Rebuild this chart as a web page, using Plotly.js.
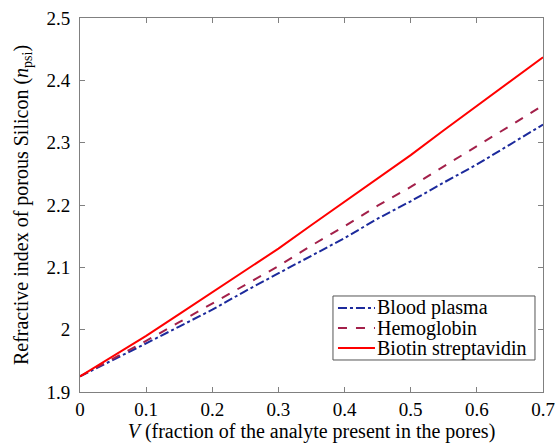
<!DOCTYPE html>
<html><head><meta charset="utf-8">
<script src="https://cdn.plot.ly/plotly-3.0.1.min.js"></script>
<style>body{margin:0;background:#fff}#chart{width:555px;height:445px}</style>
</head><body><div id="chart"></div>
<script>
const V = [0, 0.05, 0.1, 0.15, 0.2, 0.25, 0.3, 0.35, 0.4, 0.45, 0.5, 0.55, 0.6, 0.65, 0.7];
const bloodPlasma = [1.925, 1.951, 1.978, 2.005, 2.032, 2.062, 2.090, 2.119, 2.147, 2.178, 2.206, 2.236, 2.265, 2.297, 2.329];
const hemoglobin  = [1.925, 1.953, 1.982, 2.012, 2.042, 2.072, 2.102, 2.135, 2.166, 2.199, 2.229, 2.262, 2.294, 2.327, 2.360];
const biotinStrep = [1.925, 1.957, 1.990, 2.025, 2.060, 2.095, 2.130, 2.168, 2.205, 2.243, 2.280, 2.320, 2.359, 2.398, 2.437];
const names = ["Blood plasma", "Hemoglobin", "Biotin streptavidin"];
const xTicks = [0, 0.1, 0.2, 0.3, 0.4, 0.5, 0.6, 0.7];
const yTicks = [1.9, 2, 2.1, 2.2, 2.3, 2.4, 2.5];

const fam = "Liberation Serif";
const tickFont = {family: fam, color: "#000", size: 19};
const titleFont = {family: fam, color: "#000", size: 20};
const styles = [
  {color: "#1c2a9c", width: 2, dash: "dashdot"},
  {color: "#a3204a", width: 2, dash: "dash"},
  {color: "#ff0000", width: 2, dash: "solid"}
];
const series = [bloodPlasma, hemoglobin, biotinStrep];
const traces = series.map((s, i) => ({x: V, y: s, name: names[i], mode: "lines", line: styles[i], showlegend: false}));

// Legend box drawn in paper coordinates (tight line spacing like the reference)
const legBox = {x0: 0.5464, x1: 0.9827, y0: 0.0856, y1: 0.2567};
const legRows = [0.2246, 0.1711, 0.1176];
const shapes = [{type: "rect", xref: "paper", yref: "paper", x0: legBox.x0, x1: legBox.x1, y0: legBox.y0, y1: legBox.y1,
  line: {color: "#555", width: 1}, fillcolor: "#fff", layer: "above"}];
const annotations = [];
names.forEach((n, i) => {
  shapes.push({type: "line", xref: "paper", yref: "paper", x0: 0.5572, x1: 0.6371, y0: legRows[i], y1: legRows[i],
    line: {color: styles[i].color, width: 2, dash: styles[i].dash}, layer: "above"});
  annotations.push({xref: "paper", yref: "paper", x: 0.6393, y: legRows[i], xanchor: "left", yanchor: "middle",
    text: n, showarrow: false, font: {family: fam, size: 20, color: "#000"}, borderpad: 0});
});

const axisCommon = {showgrid: false, zeroline: false, showline: true, linecolor: "#808080", linewidth: 1,
  mirror: "ticks", ticks: "inside", ticklen: 5, tickcolor: "#808080", tickfont: tickFont};
const layout = {
  width: 555, height: 445,
  margin: {l: 80, r: 12, t: 18, b: 53},
  paper_bgcolor: "#fff", plot_bgcolor: "#fff",
  font: tickFont,
  showlegend: false,
  shapes: shapes,
  annotations: annotations,
  xaxis: Object.assign({}, axisCommon, {range: [0, 0.7], tickvals: xTicks, ticktext: xTicks.map(String),
    title: {text: "<i>V</i> (fraction of the analyte present in the pores)", font: titleFont, standoff: 2}}),
  yaxis: Object.assign({}, axisCommon, {range: [1.9, 2.5], tickvals: yTicks, ticktext: yTicks.map(String),
    ticklabelstandoff: 5,
    title: {text: "Refractive index of porous Silicon (<i>n</i><sub>psi</sub>)", font: titleFont, standoff: 12}})
};
Plotly.newPlot("chart", traces, layout, {displayModeBar: false, staticPlot: true});
</script></body></html>
